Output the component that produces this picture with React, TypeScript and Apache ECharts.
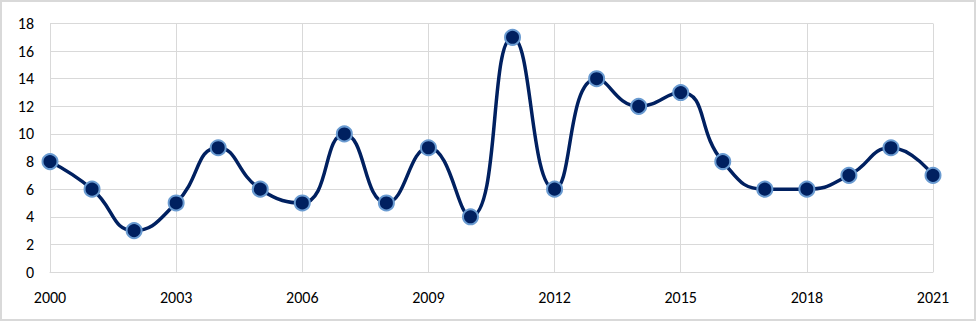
import React, { useEffect, useRef } from "react";
import * as echarts from "echarts";

const years = ["2000","2001","2002","2003","2004","2005","2006","2007","2008","2009","2010","2011","2012","2013","2014","2015","2016","2017","2018","2019","2020","2021"];
const values = [8, 6, 3, 5, 9, 6, 5, 10, 5, 9, 4, 17, 6, 14, 12, 13, 8, 6, 6, 7, 9, 7];

export default function App() {
  const ref = useRef<HTMLDivElement>(null);
  useEffect(() => {
    document.body.style.margin = "0";
    const chart = echarts.init(ref.current!, null, { renderer: "svg" });
    const font = "Calibri, Carlito, 'Liberation Sans', sans-serif";
    chart.setOption({
      animation: false,
      backgroundColor: "#ffffff",
      graphic: [
        {
          type: "rect",
          shape: { x: 1, y: 1, width: 974, height: 319 },
          style: { fill: "none", stroke: "#d9d9d9", lineWidth: 2 },
          silent: true,
        },
      ],
      grid: { left: 50, right: 43, top: 23.5, bottom: 49, containLabel: false },
      xAxis: {
        type: "category",
        data: years,
        boundaryGap: false,
        axisLine: { show: true, lineStyle: { color: "#d9d9d9", width: 1 } },
        axisTick: { show: false },
        axisLabel: { interval: 2, color: "#000", fontSize: 16, fontFamily: font, margin: 17 },
        splitLine: { show: true, interval: 2, lineStyle: { color: "#d9d9d9", width: 1 } },
      },
      yAxis: {
        type: "value",
        min: 0,
        max: 18,
        interval: 2,
        axisLine: { show: true, lineStyle: { color: "#d9d9d9", width: 1 } },
        axisTick: { show: false },
        axisLabel: { color: "#000", fontSize: 16, fontFamily: font, margin: 16 },
        splitLine: { show: true, lineStyle: { color: "#d9d9d9", width: 1 } },
      },
      series: [
        {
          type: "line",
          data: values,
          smooth: 0.5,
          symbol: "circle",
          symbolSize: 15,
          lineStyle: { color: "#002060", width: 3.5 },
          itemStyle: { color: "#002060", borderColor: "#6a9bd1", borderWidth: 2 },
        },
      ],
    });
    return () => chart.dispose();
  }, []);
  return <div ref={ref} style={{ width: 976, height: 321 }} />;
}
